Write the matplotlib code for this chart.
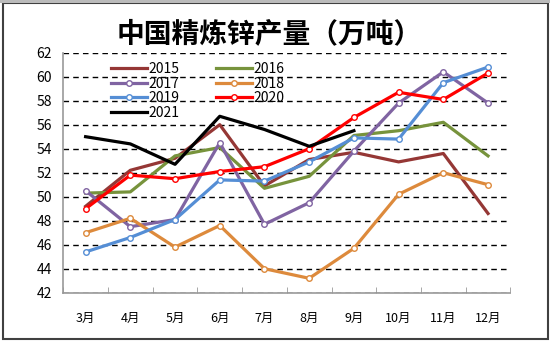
import numpy as np
import matplotlib.pyplot as plt
from matplotlib.patches import Rectangle

plt.rcParams['font.family'] = ['Noto Sans CJK SC', 'DejaVu Sans']

# valores
meses = ['3月', '4月', '5月', '6月', '7月', '8月', '9月', '10月', '11月', '12月']
y2015 = [49.2, 52.2, 53.2, 56.0, 50.9, 53.1, 53.7, 52.9, 53.6, 48.6]
y2016 = [50.3, 50.4, 53.4, 54.1, 50.7, 51.7, 55.1, 55.5, 56.2, 53.4]
y2017 = [50.5, 47.5, 48.1, 54.5, 47.7, 49.5, 53.8, 57.8, 60.4, 57.8]
y2018 = [47.0, 48.2, 45.8, 47.6, 44.0, 43.2, 45.7, 50.2, 52.0, 51.0]
y2019 = [45.4, 46.6, 48.1, 51.4, 51.3, 52.9, 54.9, 54.8, 59.5, 60.8]
y2020 = [49.0, 51.8, 51.5, 52.1, 52.5, 54.0, 56.6, 58.7, 58.1, 60.3]
y2021 = [55.0, 54.4, 52.7, 56.7, 55.6, 54.2, 55.5]

anos = ['2015', '2016', '2017', '2018', '2019', '2020', '2021']
series = [y2015, y2016, y2017, y2018, y2019, y2020, y2021]
cores = ['#953735', '#77933C', '#8064A2', '#DD8A3C', '#558ED5', '#FF0000', '#000000']
comMarcador = [False, False, True, True, True, True, False]

fig = plt.figure(figsize=(5.5, 3.43), dpi=100)
ax = fig.add_axes([0.115, 0.1466, 0.813, 0.6998])

x = np.arange(len(meses))
linhas = []
for i in range(len(series)):
    xs = x[:len(series[i])]
    if comMarcador[i]:
        l, = ax.plot(xs, series[i], color=cores[i], lw=2.3, marker='o', markersize=4,
                     markerfacecolor='white', markeredgecolor=cores[i], markeredgewidth=1.0,
                     label=anos[i])
    else:
        l, = ax.plot(xs, series[i], color=cores[i], lw=2.3, label=anos[i])
    linhas.append(l)

ax.set_xlim(-0.5, len(meses) - 0.5)
ax.set_ylim(42, 62)
ax.set_yticks(np.arange(42, 63, 2))
ax.set_xticks(x)
ax.set_xticklabels(meses, fontsize=9)
ax.set_xticks(np.arange(-0.5, len(meses), 1), minor=True)
ax.tick_params(axis='x', which='major', length=0, pad=14)
ax.tick_params(axis='x', which='minor', direction='in', length=4, color='#999999')
ax.tick_params(axis='y', length=0, labelsize=10, pad=8)

ax.yaxis.grid(True, linestyle=(0, (4, 3)), color='black', lw=1.0)
ax.set_axisbelow(True)
ax.spines['top'].set_visible(False)
ax.spines['right'].set_visible(False)
ax.spines['left'].set_color('#999999')
ax.spines['bottom'].set_color('#999999')
ax.spines['left'].set_linewidth(1.2)
ax.spines['bottom'].set_linewidth(1.2)

# legenda preenchida por linha (2015 2016 / 2017 2018 / ...)
ordem = [0, 2, 4, 6, 1, 3, 5]
leg = ax.legend([linhas[k] for k in ordem], [anos[k] for k in ordem],
                loc='upper left', bbox_to_anchor=(0.095, 0.985), ncol=2, frameon=False,
                fontsize=10, handlelength=2.6, handletextpad=0.1, columnspacing=2.6,
                labelspacing=0.05, borderaxespad=0)

fig.text(0.49, 0.9, '中国精炼锌产量（万吨）', ha='center', va='center',
         fontsize=20, fontweight='bold')

# moldura
fig.patches.append(Rectangle((3 / 550, 4 / 343), 545 / 550, 336 / 343, transform=fig.transFigure,
                             fill=False, edgecolor='#404040', lw=1.5))
fig.patches.append(Rectangle((0, 340 / 343), 1, 3 / 343, transform=fig.transFigure,
                             facecolor='#bbbbbb', edgecolor='none'))

fig.savefig('out.png', dpi=100)
